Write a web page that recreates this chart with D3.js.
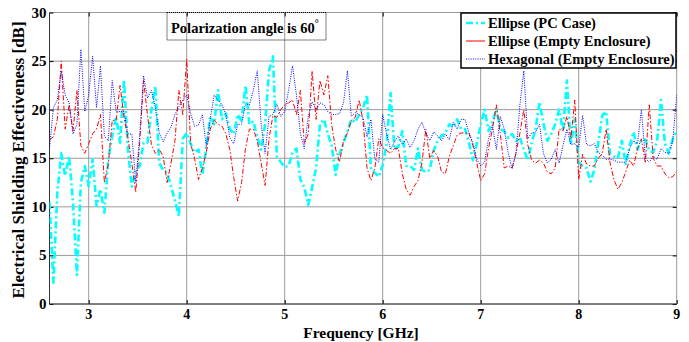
<!DOCTYPE html>
<html>
<head>
<meta charset="utf-8">
<script src="https://cdn.jsdelivr.net/npm/d3@7"></script>
<style>
  html, body { margin: 0; padding: 0; background: #fff; }
  svg { display: block; font-family: "Liberation Serif", "Times New Roman", serif; font-weight: bold; }
</style>
</head>
<body>
<svg id="chart" width="689" height="342"></svg>
<script>
// Measurement sweep: 2.6 .. 9.0 GHz, 0.04 GHz steps
var FREQ_START = 2.6, FREQ_STEP = 0.04, FREQ_COUNT = 161;
var xTicks = [3, 4, 5, 6, 7, 8, 9];
var yTicks = [0, 5, 10, 15, 20, 25, 30];
var legendLabels = ['Ellipse (PC Case)', 'Ellipse (Empty Enclosure)', 'Hexagonal (Empty Enclosure)'];

// Shielding effectiveness [dB]
var ellipsePcCase = [
  10.5, 2.2, 11.5, 15.5, 13.2, 15.2, 10.4, 3.0, 12.5, 14.2, 12.1, 14.9, 10.1, 11.8, 9.4, 14.9, 17.3,
  19.3, 16.6, 23.1, 15.9, 12.1, 13.8, 14.2, 16.6, 16.6, 20.0, 22.4, 14.5, 13.8, 13.5, 12.1, 10.7,
  9.0, 17.0, 17.6, 16.5, 15.6, 15.9, 13.3, 16.1, 19.3, 18.5, 22.0, 19.0, 19.6, 18.0, 17.5, 19.5,
  18.8, 22.5, 18.5, 18.8, 17.2, 15.9, 18.5, 24.0, 25.5, 15.2, 14.6, 14.1, 14.2, 15.6, 16.0, 12.8,
  12.0, 10.2, 12.0, 14.0, 18.5, 19.0, 17.5, 16.3, 13.3, 15.5, 16.5, 17.8, 19.0, 18.7, 19.5, 20.2,
  21.5, 13.8, 13.5, 13.1, 14.3, 16.5, 21.7, 15.9, 16.2, 17.8, 14.2, 14.2, 13.8, 16.0, 13.8, 13.6,
  13.8, 15.8, 16.8, 17.3, 17.6, 18.5, 18.2, 19.0, 18.0, 18.0, 16.6, 14.8, 16.5, 18.5, 20.0, 17.8,
  18.8, 20.0, 18.0, 17.8, 17.1, 17.5, 16.8, 17.1, 15.9, 14.8, 16.6, 18.0, 20.8, 18.6, 16.8, 17.5,
  18.5, 20.0, 17.8, 23.0, 16.4, 19.0, 14.6, 14.2, 14.0, 12.6, 13.8, 16.6, 19.4, 19.8, 15.4, 15.2,
  15.0, 16.8, 14.4, 16.3, 17.7, 15.9, 16.9, 16.9, 15.8, 15.6, 16.8, 21.0, 16.5, 15.5, 17.0, 17.8
];
var ellipseEmpty = [
  16.9, 17.2, 19.0, 25.0, 18.0, 20.5, 17.8, 22.0, 16.3, 15.5, 16.5, 17.5, 18.0, 19.5, 12.5, 14.4, 18.9,
  18.9, 22.5, 19.2, 17.1, 14.5, 11.5, 16.6, 23.0, 19.4, 16.4, 15.5, 15.9, 15.2, 12.5, 14.5, 16.8,
  22.0, 19.5, 25.2, 16.5, 15.0, 12.8, 14.0, 15.6, 18.0, 18.9, 18.5, 18.3, 17.5, 15.9, 13.0, 10.6,
  12.5, 16.0, 18.0, 18.0, 16.8, 14.5, 12.2, 17.0, 19.4, 19.2, 20.0, 20.5, 20.7, 21.0, 19.5, 22.0,
  16.5, 17.5, 24.0, 19.0, 23.0, 21.5, 23.5, 18.4, 15.9, 14.6, 16.8, 17.6, 18.9, 19.2, 21.0, 18.8,
  14.0, 12.7, 14.0, 17.0, 16.1, 15.8, 15.5, 16.0, 16.0, 13.4, 11.8, 11.2, 12.1, 12.7, 14.5, 18.0,
  15.0, 15.8, 15.2, 13.6, 13.4, 15.2, 16.3, 17.4, 17.6, 17.6, 17.6, 16.3, 14.5, 12.7, 13.4, 16.0,
  18.0, 20.5, 17.5, 14.0, 14.2, 14.0, 15.5, 17.6, 20.0, 16.4, 14.8, 14.5, 14.8, 14.5, 13.6, 13.4,
  14.0, 18.0, 17.8, 19.3, 17.0, 21.0, 12.8, 15.4, 14.4, 14.2, 14.2, 15.0, 15.5, 18.0, 14.5, 12.8,
  11.8, 12.5, 13.6, 14.8, 14.2, 16.0, 17.0, 14.5, 20.5, 15.0, 14.2, 14.2, 13.4, 13.0, 13.1, 13.6
];
var hexagonalEmpty = [
  16.0, 20.2, 21.0, 24.0, 21.5, 20.7, 17.5, 18.5, 26.2, 19.8, 21.5, 25.5, 20.2, 24.5, 17.3, 16.8, 23.0,
  19.8, 19.8, 19.8, 17.5, 17.5, 12.5, 17.3, 23.5, 21.2, 22.0, 20.2, 17.6, 16.7, 17.6, 18.2, 19.5,
  20.3, 21.0, 21.5, 19.6, 18.3, 18.4, 19.5, 16.2, 19.0, 21.5, 21.0, 20.5, 19.5, 17.1, 16.5, 18.5,
  18.5, 20.6, 20.5, 22.0, 24.0, 18.5, 15.5, 19.3, 19.5, 20.6, 19.3, 19.8, 22.0, 24.5, 21.5, 17.5,
  16.0, 19.3, 20.8, 20.0, 20.7, 20.5, 19.8, 19.5, 19.5, 19.6, 20.7, 24.0, 19.3, 19.7, 19.5, 19.2,
  17.2, 19.0, 14.9, 14.6, 19.5, 17.5, 15.9, 16.7, 17.3, 16.4, 17.0, 16.1, 16.8, 18.0, 18.7, 17.6,
  16.8, 17.7, 17.3, 16.8, 17.5, 16.9, 18.7, 18.0, 19.0, 19.0, 17.6, 16.6, 14.9, 14.2, 14.6, 17.0,
  18.4, 15.9, 19.3, 18.0, 15.6, 13.9, 15.5, 20.5, 24.0, 17.0, 17.6, 17.7, 18.5, 15.5, 14.5, 14.9,
  15.9, 14.5, 16.3, 18.0, 16.4, 16.5, 16.1, 19.4, 16.4, 16.3, 16.5, 15.6, 15.3, 14.9, 14.9, 14.8,
  14.6, 14.6, 14.6, 16.0, 16.8, 16.5, 20.0, 15.0, 14.6, 15.2, 14.9, 16.0, 15.6, 15.5, 16.8, 21.5
];

var freq = d3.range(FREQ_COUNT).map(function(i) { return +(FREQ_START + i * FREQ_STEP).toFixed(2); });

var svg = d3.select('#chart');
var margin = { top: 12.5, right: 12.3, bottom: 38, left: 49.5 };
var width = 689 - margin.left - margin.right;
var height = 342 - margin.top - margin.bottom;

var x = d3.scaleLinear().domain([2.6, 9]).range([0, width]);
var y = d3.scaleLinear().domain([0, 30]).range([height, 0]);

var g = svg.append('g').attr('transform', 'translate(' + margin.left + ',' + margin.top + ')');

// grid
g.append('g').selectAll('line').data(xTicks).enter().append('line')
  .attr('x1', function(d) { return x(d); }).attr('x2', function(d) { return x(d); })
  .attr('y1', 0).attr('y2', height).attr('stroke', '#9a9a9a').attr('stroke-width', 1);
g.append('g').selectAll('line').data(yTicks).enter().append('line')
  .attr('x1', 0).attr('x2', width)
  .attr('y1', function(d) { return y(d); }).attr('y2', function(d) { return y(d); })
  .attr('stroke', '#9a9a9a').attr('stroke-width', 1);

// inward ticks on all four sides
var tickLen = 4;
g.append('g').call(d3.axisBottom(x).tickValues(xTicks).tickSize(-tickLen).tickFormat(''))
  .attr('transform', 'translate(0,' + height + ')').call(function(a) { a.select('.domain').remove(); });
g.append('g').call(d3.axisTop(x).tickValues(xTicks).tickSize(-tickLen).tickFormat(''))
  .call(function(a) { a.select('.domain').remove(); });
g.append('g').call(d3.axisLeft(y).tickValues(yTicks).tickSize(-tickLen).tickFormat(''))
  .call(function(a) { a.select('.domain').remove(); });
g.append('g').call(d3.axisRight(y).tickValues(yTicks).tickSize(-tickLen).tickFormat(''))
  .attr('transform', 'translate(' + width + ',0)').call(function(a) { a.select('.domain').remove(); });

// axis lines
g.append('line').attr('x1', 0).attr('x2', 0).attr('y1', 0).attr('y2', height).attr('stroke', '#333');
g.append('line').attr('x1', 0).attr('x2', width).attr('y1', height).attr('y2', height).attr('stroke', '#333');

// tick labels
g.append('g').selectAll('text').data(xTicks).enter().append('text')
  .attr('x', function(d) { return x(d); }).attr('y', height + 15)
  .attr('text-anchor', 'middle').attr('font-size', '14px').text(function(d) { return d; });
g.append('g').selectAll('text').data(yTicks).enter().append('text')
  .attr('x', -3).attr('y', function(d) { return y(d) + 5; })
  .attr('text-anchor', 'end').attr('font-size', '15px').text(function(d) { return d; });

// axis titles
svg.append('text').attr('x', 361).attr('y', 337.5).attr('text-anchor', 'middle')
  .attr('font-size', '15.5px').text('Frequency [GHz]');
svg.append('text').attr('transform', 'translate(24,160) rotate(-90)').attr('text-anchor', 'middle')
  .attr('font-size', '17px').text('Electrical Shielding Effectiveness [dB]');

// series
var series = [
  { name: legendLabels[0], values: ellipsePcCase, color: '#00ffff', width: 2.6, dash: '7,3,2,3' },
  { name: legendLabels[1], values: ellipseEmpty, color: '#ff0000', width: 1, dash: '5,2,1.5,2' },
  { name: legendLabels[2], values: hexagonalEmpty, color: '#0000ff', width: 1, dash: '1,1.3' }
];

g.append('clipPath').attr('id', 'plotClip').append('rect').attr('width', width).attr('height', height);
var line = d3.line().x(function(d) { return x(d[0]); }).y(function(d) { return y(d[1]); });
series.forEach(function(s) {
  var pts = freq.map(function(f, i) { return [f, s.values[i]]; });
  g.append('path').datum(pts).attr('clip-path', 'url(#plotClip)')
    .attr('d', line).attr('fill', 'none').attr('stroke', s.color)
    .attr('stroke-width', s.width).attr('stroke-dasharray', s.dash)
    .attr('stroke-linejoin', 'round');
});

// annotation box
var note = g.append('g').attr('transform', 'translate(' + (167 - margin.left) + ',0)');
note.append('rect').attr('width', 159).attr('height', 27.5).attr('fill', 'none')
  .attr('stroke', '#000').attr('stroke-width', 1).attr('stroke-dasharray', '1,1');
var noteText = note.append('text').attr('x', 4).attr('y', 20).attr('font-size', '14.5px');
noteText.append('tspan').text('Polarization angle is 60');
noteText.append('tspan').attr('dy', -6).attr('font-size', '10px').text('°');

// legend
var leg = g.append('g').attr('transform', 'translate(' + (461 - margin.left) + ',0.5)');
leg.append('rect').attr('width', 215).attr('height', 55).attr('fill', '#fff')
  .attr('stroke', '#000').attr('stroke-width', 1.5);
series.forEach(function(s, i) {
  var ly = 10 + i * 18;
  leg.append('line').attr('x1', 5).attr('x2', 24).attr('y1', ly).attr('y2', ly)
    .attr('stroke', s.color).attr('stroke-width', s.width)
    .attr('stroke-dasharray', i === 1 ? null : s.dash);
  leg.append('text').attr('x', 27).attr('y', ly + 5).attr('font-size', '14.5px').text(s.name);
});
</script>
</body>
</html>
